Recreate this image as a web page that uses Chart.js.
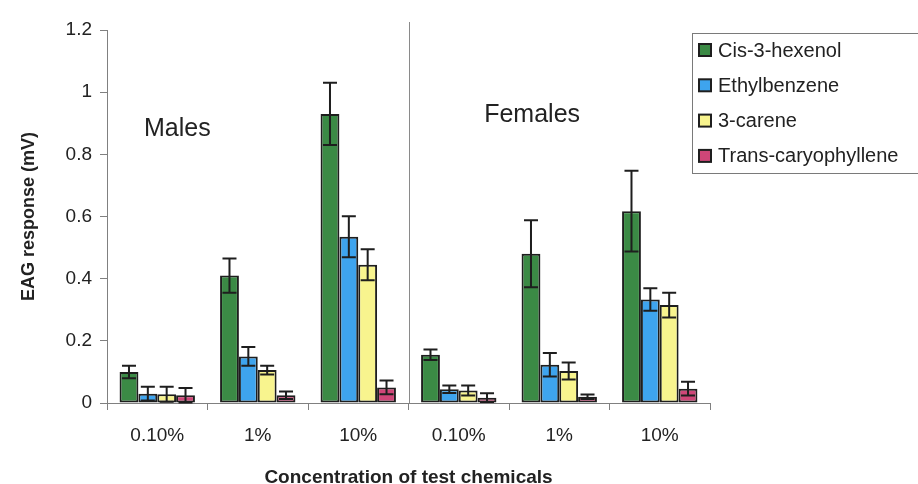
<!DOCTYPE html>
<html>
<head>
<meta charset="utf-8">
<script src="https://cdn.jsdelivr.net/npm/chart.js@4.4.1/dist/chart.umd.min.js"></script>
<style>
  html, body { margin: 0; padding: 0; background: #fff; }
  #wrap { width: 918px; height: 484px; }
</style>
</head>
<body>
<div id="wrap"><canvas id="c" width="918" height="484"></canvas></div>
<script>
// Concentration groups (first three: males, last three: females)
const concentrations = ['0.10%', '1%', '10%', '0.10%', '1%', '10%'];
const sexLabels = ['Males', 'Females'];
const seriesNames = ['Cis-3-hexenol', 'Ethylbenzene', '3-carene', 'Trans-caryophyllene'];

// Mean EAG responses (mV) and their standard errors
const cisHexenol       = [0.100, 0.410, 0.930, 0.155, 0.480, 0.617];
const cisHexenolErr    = [0.020, 0.055, 0.100, 0.017, 0.108, 0.130];
const ethylbenzene     = [0.030, 0.150, 0.535, 0.044, 0.123, 0.333];
const ethylbenzeneErr  = [0.022, 0.030, 0.066, 0.012, 0.038, 0.036];
const carene           = [0.028, 0.106, 0.445, 0.040, 0.103, 0.315];
const careneErr        = [0.024, 0.014, 0.050, 0.016, 0.027, 0.040];
const caryophyllene    = [0.025, 0.025, 0.050, 0.017, 0.020, 0.046];
const caryophylleneErr = [0.023, 0.012, 0.022, 0.014, 0.007, 0.022];

const yMin = 0, yMax = 1.2, yStep = 0.2;

const seriesColors = ['#3b8a45', '#3ea4ee', '#f8f48e', '#cf4678'];
const FONT = "'Liberation Sans', Arial, sans-serif";
const INK = '#222';

Chart.defaults.font.family = FONT;
Chart.defaults.color = INK;

// Error whiskers with caps, drawn at each bar's centre through the y scale
const errorBars = {
  id: 'errorBars',
  afterDatasetsDraw(chart) {
    const { ctx, scales: { y } } = chart;
    ctx.save();
    ctx.strokeStyle = '#1e1e1e';
    ctx.lineWidth = 2;
    chart.data.datasets.forEach((ds, i) => {
      const meta = chart.getDatasetMeta(i);
      meta.data.forEach((bar, j) => {
        const v = ds.data[j], e = ds.errors[j];
        const yt = y.getPixelForValue(v + e);
        const yb = y.getPixelForValue(Math.max(0, v - e));
        const half = 7;
        ctx.beginPath();
        ctx.moveTo(bar.x, yt); ctx.lineTo(bar.x, yb);
        ctx.moveTo(bar.x - half, yt); ctx.lineTo(bar.x + half, yt);
        ctx.moveTo(bar.x - half, yb); ctx.lineTo(bar.x + half, yb);
        ctx.stroke();
      });
    });
    ctx.restore();
  }
};

// Divider between the male and female halves, plus the group captions
const groupDecor = {
  id: 'groupDecor',
  afterDraw(chart) {
    const { ctx, chartArea: a, scales: { x, y } } = chart;
    const step = x.getPixelForValue(1) - x.getPixelForValue(0);
    const at = (idx) => x.getPixelForValue(0) + step * idx;
    ctx.save();
    ctx.strokeStyle = '#8a8a8a';
    ctx.lineWidth = 1;
    const xd = Math.round(at(2.5)) + 0.5;
    ctx.beginPath();
    ctx.moveTo(xd, a.top - 8);
    ctx.lineTo(xd, a.bottom);
    ctx.stroke();

    ctx.fillStyle = INK;
    ctx.font = '25px ' + FONT;
    ctx.textAlign = 'center';
    ctx.textBaseline = 'middle';
    ctx.fillText(sexLabels[0], at(0.2), y.getPixelForValue(0.88));
    ctx.fillText(sexLabels[1], at(3.73), y.getPixelForValue(0.925));
    ctx.restore();
  }
};

// Boxed legend at the upper right
const boxedLegend = {
  id: 'boxedLegend',
  afterDraw(chart) {
    const { ctx, chartArea: a } = chart;
    const left = a.right - 18, top = a.top + 3;
    const rowH = 35.3;
    ctx.save();
    ctx.strokeStyle = '#7a7a7a';
    ctx.lineWidth = 1;
    ctx.strokeRect(left + 0.5, top + 0.5, 260, 140);
    ctx.font = '20px ' + FONT;
    ctx.textBaseline = 'middle';
    ctx.textAlign = 'left';
    chart.data.datasets.forEach((ds, i) => {
      const cy = top + 17 + rowH * i;
      ctx.fillStyle = ds.backgroundColor;
      ctx.fillRect(left + 7, cy - 6, 12, 12);
      ctx.strokeStyle = '#1e1e1e';
      ctx.lineWidth = 2;
      ctx.strokeRect(left + 7, cy - 6, 12, 12);
      ctx.fillStyle = INK;
      ctx.fillText(ds.label, left + 26, cy + 1);
    });
    ctx.restore();
  }
};

const values = [cisHexenol, ethylbenzene, carene, caryophyllene];
const errors = [cisHexenolErr, ethylbenzeneErr, careneErr, caryophylleneErr];

new Chart(document.getElementById('c'), {
  type: 'bar',
  data: {
    labels: concentrations,
    datasets: seriesNames.map((name, i) => ({
      label: name,
      data: values[i],
      errors: errors[i],
      backgroundColor: seriesColors[i],
      borderColor: '#1e1e1e',
      borderWidth: 2,
      borderSkipped: false,
      categoryPercentage: 0.75,
      barPercentage: 1.0
    }))
  },
  options: {
    responsive: false,
    animation: false,
    layout: { padding: { left: 0, right: 208, top: 30, bottom: 0 } },
    plugins: { legend: { display: false }, tooltip: { enabled: false } },
    scales: {
      x: {
        grid: { drawOnChartArea: false, offset: true, tickLength: 7, color: '#808080' },
        border: { color: '#808080' },
        ticks: { color: INK, font: { size: 19 }, padding: 14, maxRotation: 0 },
        title: {
          display: true, text: 'Concentration of test chemicals', color: INK,
          font: { size: 19, weight: 'bold', lineHeight: 0.7 }, padding: { top: 0, bottom: 0 }
        },
        afterFit(s) { s.height = 81; }
      },
      y: {
        min: yMin, max: yMax,
        grid: { drawOnChartArea: false, tickLength: 7, color: '#808080' },
        border: { color: '#808080' },
        ticks: {
          stepSize: yStep, color: INK, font: { size: 19 }, padding: 8,
          callback: (v) => String(Number(v.toFixed(1)))
        },
        title: {
          display: true, text: 'EAG response (mV)', color: INK,
          font: { size: 18, weight: 'bold', lineHeight: 1 }, padding: { top: 20, bottom: 0 }
        },
        afterFit(s) { s.width = 107; }
      }
    }
  },
  plugins: [errorBars, groupDecor, boxedLegend]
});
</script>
</body>
</html>
